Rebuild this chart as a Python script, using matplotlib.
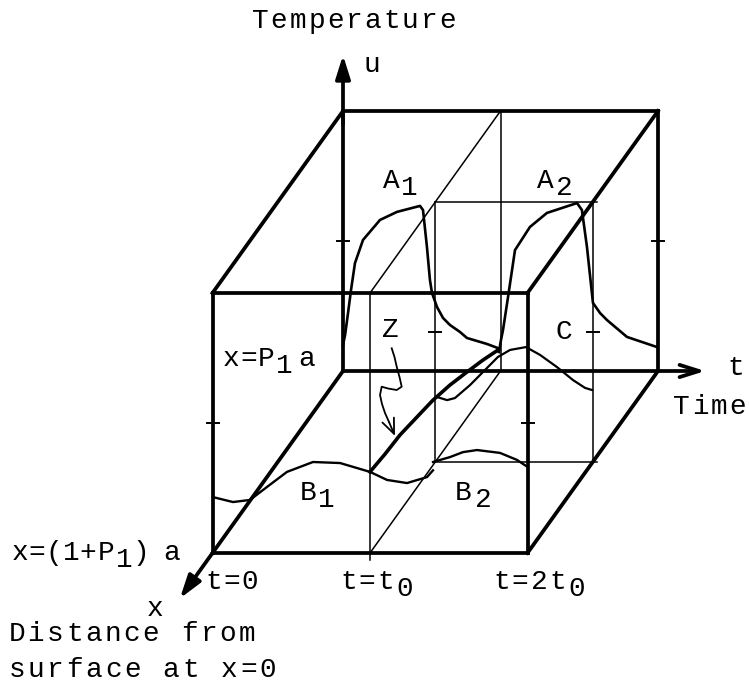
import numpy as np
import matplotlib
matplotlib.use("Agg")
import matplotlib.pyplot as plt

W, H, DPI = 749, 686, 100

# ---- oblique projection of the (t, depth, u) box onto the page ----
ORIGIN = (343.0, 371.0)        # t = 0, back face (x = P1 a), u = 0
T_STEP = 157.5                 # page units per t0
DEPTH_VEC = (-130.5, 182.0)    # back face -> front face (x = (1+P1) a)
U_STEP = 260.0                 # page units per unit temperature

BACK, MID, FRONT = 0.0, 0.5, 1.0


def proj(t, d, u):
    t = np.asarray(t, float)
    d = np.asarray(d, float)
    u = np.asarray(u, float)
    X = ORIGIN[0] + T_STEP * t + DEPTH_VEC[0] * d
    Y = ORIGIN[1] - U_STEP * u + DEPTH_VEC[1] * d
    return X, Y


# ---- temperature histories (t in units of t0, u normalised) ----
# surface x = P1 a, first heating cycle
a1_t = [0.0, 0.013, 0.032, 0.051, 0.076, 0.127, 0.235, 0.343, 0.489, 0.508,
        0.533, 0.552, 0.565, 0.597, 0.635, 0.679, 0.743, 0.787, 0.914, 0.984]
a1_u = [0.100, 0.138, 0.223, 0.312, 0.415, 0.504, 0.581, 0.612, 0.635, 0.619,
        0.477, 0.350, 0.300, 0.246, 0.204, 0.177, 0.150, 0.127, 0.104, 0.088]
# surface x = P1 a, second heating cycle
a2_t = [0.990, 1.003, 1.016, 1.048, 1.092, 1.187, 1.295, 1.486, 1.517, 1.549,
        1.587, 1.632, 1.676, 1.803, 1.994]
a2_u = [0.073, 0.119, 0.158, 0.285, 0.465, 0.554, 0.608, 0.646, 0.619, 0.477,
        0.262, 0.223, 0.196, 0.131, 0.092]
# inner face x = (1+P1) a
b_t = [0.003, 0.130, 0.238, 0.346, 0.473, 0.638, 0.810, 1.000, 1.108, 1.235,
       1.362, 1.400]
b_u = [0.215, 0.196, 0.204, 0.254, 0.312, 0.350, 0.346, 0.312, 0.281, 0.269,
       0.292, 0.318]
# mid-depth plane, second cycle (lower trace)
b2_t = [0.986, 1.094, 1.176, 1.265, 1.411, 1.519, 1.576]
b2_u = [0.000, 0.019, 0.038, 0.046, 0.035, 0.008, -0.015]
# mid-depth plane, second cycle (upper trace)
c_t = [1.011, 1.075, 1.125, 1.221, 1.316, 1.398, 1.475, 1.576, 1.665, 1.773,
       1.875, 1.951, 1.995]
c_u = [0.250, 0.238, 0.246, 0.296, 0.354, 0.404, 0.431, 0.442, 0.412, 0.365,
       0.315, 0.285, 0.277]
# profile across the slab at t = t0 (depth 1 = inner face, 0 = surface)
z_d = [1.000, 0.885, 0.770, 0.640, 0.517, 0.387, 0.257, 0.134, 0.019]
z_u = [0.312, 0.300, 0.293, 0.271, 0.250, 0.217, 0.176, 0.136, 0.094]

THICK, THIN, CURVE = 2.7, 1.1, 1.9
INK = "black"

fig = plt.figure(figsize=(W / DPI, H / DPI), dpi=DPI)
ax = fig.add_axes([0, 0, 1, 1])
ax.set_xlim(0, W)
ax.set_ylim(H, 0)
ax.axis("off")


def edge(p0, p1, lw):
    X, Y = proj(*zip(p0, p1))
    ax.plot(X, Y, color=INK, lw=lw, solid_capstyle="projecting")


def arrow(p0, p1, lw, style="-|>"):
    x0, y0 = proj(*p0)
    x1, y1 = proj(*p1)
    ax.annotate("", xy=(x1, y1), xytext=(x0, y0),
                arrowprops=dict(arrowstyle=style + ",head_length=0.7,head_width=0.22",
                                lw=lw, color=INK, mutation_scale=20,
                                shrinkA=0, shrinkB=0))


# box edges
for p0, p1 in [((0, 0, 1), (2, 0, 1)), ((2, 0, 1), (2, 0, 0)),
               ((0, 1, 0), (2, 1, 0)), ((2, 1, 0), (2, 1, 1)),
               ((2, 1, 1), (0, 1, 1)), ((0, 1, 1), (0, 1, 0)),
               ((0, 0, 1), (0, 1, 1)), ((2, 0, 1), (2, 1, 1)),
               ((0, 0, 0), (0, 1, 0)), ((2, 0, 0), (2, 1, 0)),
               ((0, 0, 0), (0, 0, 1))]:
    edge(p0, p1, THICK)

# axes with arrows
arrow((0, 0, 0.95), (0, 0, 1.215), THICK)
arrow((2.0, 0, 0), (2.30, 0, 0), THICK, style="->")
edge((0, 0, 0), (2.0, 0, 0), THICK)
arrow((0, 1, 0), (0, 1.25, 0), THICK)

# plane t = t0
for p0, p1 in [((1, 1, -0.025), (1, 1, 1)), ((1, 1, 1), (1, 0, 1)),
               ((1, 0, 1), (1, 0, 0)), ((1, 0, 0), (1, 1, 0))]:
    edge(p0, p1, THIN)

# mid-depth plane for the second cycle
for p0, p1 in [((1, MID, 0), (2.03, MID, 0)), ((2, MID, 0), (2, MID, 1)),
               ((2.03, MID, 1), (1, MID, 1)), ((1, MID, 1), (1, MID, 0))]:
    edge(p0, p1, THIN)

# tick marks at mid height
for t, d in [(0, BACK), (2, BACK), (0, FRONT), (2, FRONT), (1, MID), (2, MID)]:
    x, y = proj(t, d, 0.5)
    ax.plot([x - 6, x + 6], [y, y], color=INK, lw=THIN + 0.3)

# curves
ax.plot(*proj(a1_t, BACK, a1_u), color=INK, lw=CURVE)
ax.plot(*proj(a2_t, BACK, a2_u), color=INK, lw=CURVE)
ax.plot(*proj(b_t, FRONT, b_u), color=INK, lw=1.7)
ax.plot(*proj(b2_t, MID, b2_u), color=INK, lw=1.7)
ax.plot(*proj(c_t, MID, c_u), color=INK, lw=1.6)
ax.plot(*proj(np.ones(len(z_d)), z_d, z_u), color=INK, lw=2.6)

# wavy pointer to the t = t0 profile
wx = [391.7, 394.5, 396.7, 399.5, 401.7, 396.7, 388.0, 381.7, 380.0, 382.0, 385.0, 389.0]
wy = [348.3, 357.0, 366.7, 377.0, 386.7, 390.0, 388.5, 386.7, 395.0, 404.0, 413.0, 422.0]
ax.plot(wx, wy, color=INK, lw=1.3)
ax.annotate("", xy=(395.0, 436.0), xytext=(389.0, 422.0),
            arrowprops=dict(arrowstyle="->,head_length=0.6,head_width=0.25",
                            lw=1.3, color=INK, mutation_scale=18,
                            shrinkA=0, shrinkB=0))

# ---- typewriter lettering ----
FONT = ["Liberation Mono", "DejaVu Sans Mono"]
FS = 20
PITCH = 18.7
DROP = 7


def typed(text, base, left=None, xs=None, sub=(), pitch=PITCH):
    if xs is None:
        xs = [left + (i + 0.5) * pitch for i in range(len(text))]
    for i, (ch, x) in enumerate(zip(text, xs)):
        if ch == " ":
            continue
        ax.text(x, base + (DROP if i in sub else 0), ch, ha="center",
                va="baseline", fontsize=FS, family=FONT, color=INK)


typed("Temperature", 28, left=251)
typed("u", 72, xs=[372])
typed("A1", 188, xs=[391, 409], sub={1})
typed("A2", 188, xs=[545, 564], sub={1})
typed("Z", 337, xs=[390])
typed("C", 339, xs=[564])
typed("x=P1a", 366, xs=[231, 249, 266, 284, 307], sub={3})
typed("B1", 500, xs=[308, 326], sub={1})
typed("B2", 500, xs=[463, 483], sub={1})
typed("t", 375, xs=[736])
typed("Time", 414, left=672, pitch=18.75)
typed("x=(1+P1)a", 560, xs=[20, 37, 54, 71, 88, 106, 124, 141, 172], sub={6})
typed("t=0", 589, xs=[214, 232, 250])
typed("t=t0", 589, xs=[349, 367, 386, 405], sub={3})
typed("t=2t0", 589, xs=[502, 520, 539, 558, 577], sub={4})
typed("x", 616, xs=[155])
typed("Distance from", 641, left=7, pitch=19.2)
typed("surface at x=0", 677, left=7, pitch=19.3)

fig.savefig("out.png", dpi=DPI, facecolor="white")
